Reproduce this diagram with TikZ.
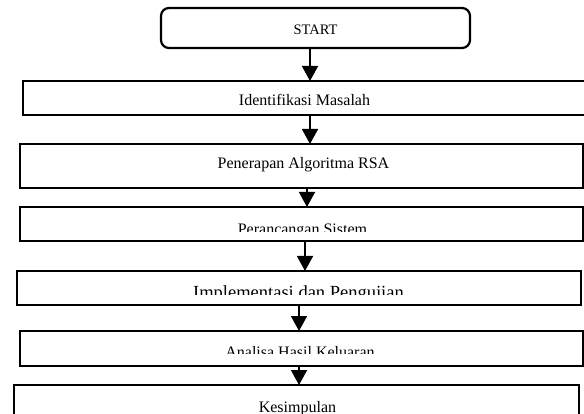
\documentclass[tikz,border=0pt]{standalone}
\usepackage{fontspec}
\setmainfont{Liberation Serif}
\usetikzlibrary{arrows.meta}
\begin{document}
\begin{tikzpicture}[x=1pt,y=-1pt,
  box/.style={draw=black,line width=1.6pt,rectangle,inner sep=0pt,outer sep=0pt,anchor=north west},
  startbox/.style={draw=black,line width=2.2pt,rectangle,rounded corners=8pt,inner sep=0pt,outer sep=0pt,anchor=north west},
  lbl/.style={anchor=base,inner sep=0pt,font=\fontsize{16}{19}\selectfont},
  arr/.style={line width=1.6pt,-{Triangle[width=16pt,length=15pt]}}]
\useasboundingbox (0,0) rectangle (584,414);
% boxes
\node[startbox,minimum width=309pt,minimum height=40pt] (b1) at (161,8) {};
\node[box,minimum width=570pt,minimum height=34pt] (b2) at (23,81) {};
\node[box,minimum width=563pt,minimum height=44pt] (b3) at (20,144) {};
\node[box,minimum width=563pt,minimum height=34pt] (b4) at (20,207) {};
\node[box,minimum width=564pt,minimum height=34pt] (b5) at (17,271) {};
\node[box,minimum width=563pt,minimum height=35pt] (b6) at (20,331) {};
\node[box,minimum width=565pt,minimum height=45pt] (b7) at (14,385) {};
% labels
\node[lbl,font=\fontsize{14.5}{17}\selectfont] (t1) at (315.5,35) {START};
\node[lbl] (t2) at (304.5,106) {Identifikasi Masalah};
\node[lbl] (t3) at (303.5,169) {Penerapan Algoritma RSA};
\begin{scope}
  \clip (b4.north west) rectangle (584,232);
  \node[lbl] (t4) at (302.5,234.5) {Perancangan Sistem};
\end{scope}
\begin{scope}
  \clip (b5.north west) rectangle (584,295);
  \node[lbl,font=\fontsize{18.5}{21}\selectfont] (t5) at (298.5,298.3) {Implementasi dan Pengujian};
\end{scope}
\begin{scope}
  \clip (b6.north west) rectangle (584,353);
  \node[lbl] (t6) at (300,357.6) {Analisa Hasil Keluaran};
\end{scope}
\node[lbl] (t7) at (297.5,412.3) {Kesimpulan};
% arrows
\draw[arr] (b1.south -| 310,0) -- (b2.north -| 310,0);
\draw[arr] (b2.south -| 310,0) -- (b3.north -| 310,0);
\draw[arr] (b3.south -| 307,0) -- (b4.north -| 307,0);
\draw[arr] (b4.south -| 305,0) -- (b5.north -| 305,0);
\draw[arr] (b5.south -| 299,0) -- (b6.north -| 299,0);
\draw[arr] (b6.south -| 299,0) -- (b7.north -| 299,0);
\end{tikzpicture}
\end{document}
